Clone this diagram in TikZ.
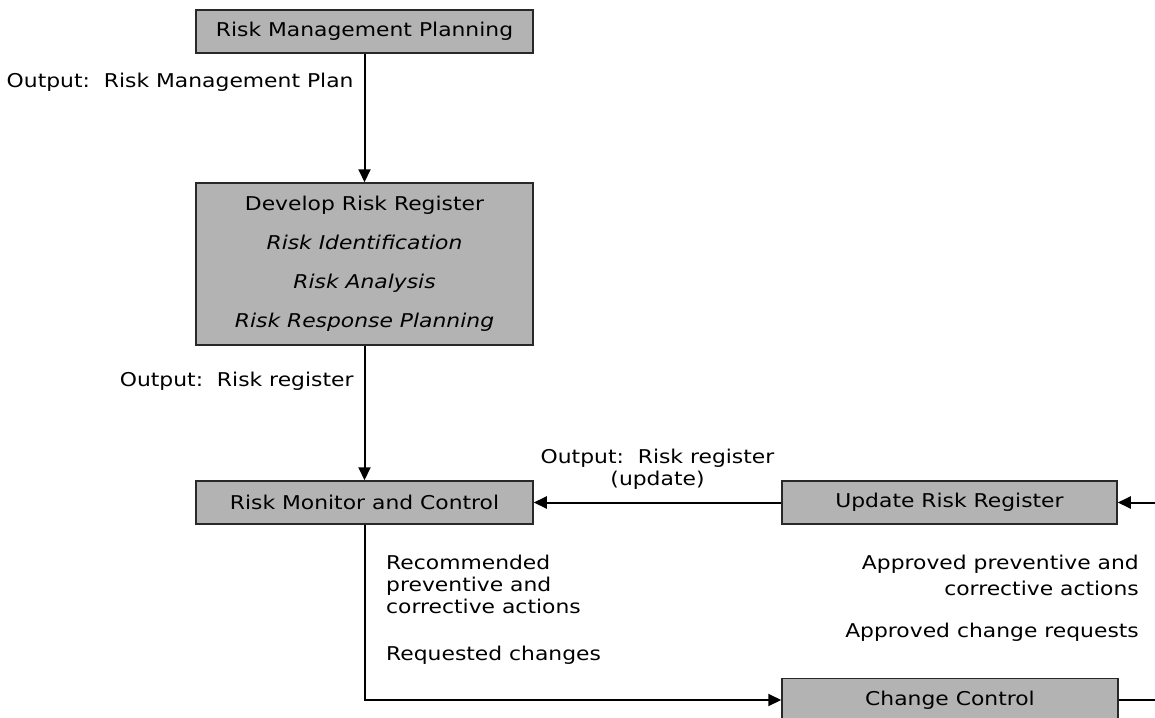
\documentclass[tikz,border=0pt]{standalone}
\usepackage{fontspec}
\setmainfont{DejaVu Sans}[FakeStretch=1.15]
\usetikzlibrary{
  arrows.meta,
  positioning,
}
\tikzset{
  >={Triangle[width=12pt,length=13pt]},
}
\definecolor{box_grey}{RGB}{179,179,179}
\definecolor{box_edge}{RGB}{40,40,40}

\begin{document}
\begin{tikzpicture}[x=1pt, y=-1pt,
    procbox/.style={draw=box_edge, line width=1.5pt, fill=box_grey,
      minimum width=337pt, minimum height=43pt, inner sep=0pt,
      font=\fontsize{19}{22}\selectfont},
    lbl/.style={inner sep=0pt, font=\fontsize{19}{22}\selectfont},
    flow/.style={line width=2pt, ->},
  ]
    \useasboundingbox (0,0) rectangle (1155,717);

    % process boxes
    \node[procbox] (rmp) at (364.5,31.5) {Risk Management Planning};
    \node[procbox, minimum height=162pt, align=center,
      font=\fontsize{19}{39}\selectfont] (drr) at (364.5,264)
      {Develop Risk Register\\\textit{Risk Identification}\\
       \textit{Risk Analysis}\\\textit{Risk Response Planning}};
    \node[procbox] (rmc) at (364.5,502.5) {Risk Monitor and Control};
    \node[procbox, minimum width=335pt] (urr) at (949.5,502.5) {Update Risk Register};
    \node[procbox, minimum width=336pt] (cc) at (950,700) {Change Control};

    % loop ends leaving the picture on the right
    \coordinate (urr_in) at (1155,502.5);
    \coordinate (cc_out) at (1155,700);

    % main flow
    \draw[flow] (rmp) -- node[lbl, left=10pt, pos=0.22] {Output:\ \ Risk Management Plan} (drr);
    \draw[flow] (drr) -- node[lbl, left=10pt, pos=0.265] {Output:\ \ Risk register} (rmc);
    \draw[flow] (urr) -- node[lbl, align=center, above=12pt] {Output:\ \ Risk register\\(update)} (rmc);
    \draw[flow] (urr_in) -- (urr.east);
    \draw[flow] (rmc.south) |- (cc.west);
    \draw[line width=2pt] (cc.east) -- (cc_out);

    % notes beside the change loop
    \node[lbl, anchor=north west, align=left] (recact) at (386,555)
      {Recommended\\preventive and\\corrective actions};
    \node[lbl, anchor=west] (reqchg) at (386,655) {Requested changes};
    \node[lbl, anchor=north east, align=right,
      font=\fontsize{19}{26}\selectfont] (appact) at (1139,555)
      {Approved preventive and\\corrective actions};
    \node[lbl, anchor=east] (appchg) at (1139,632) {Approved change requests};
\end{tikzpicture}
\end{document}
